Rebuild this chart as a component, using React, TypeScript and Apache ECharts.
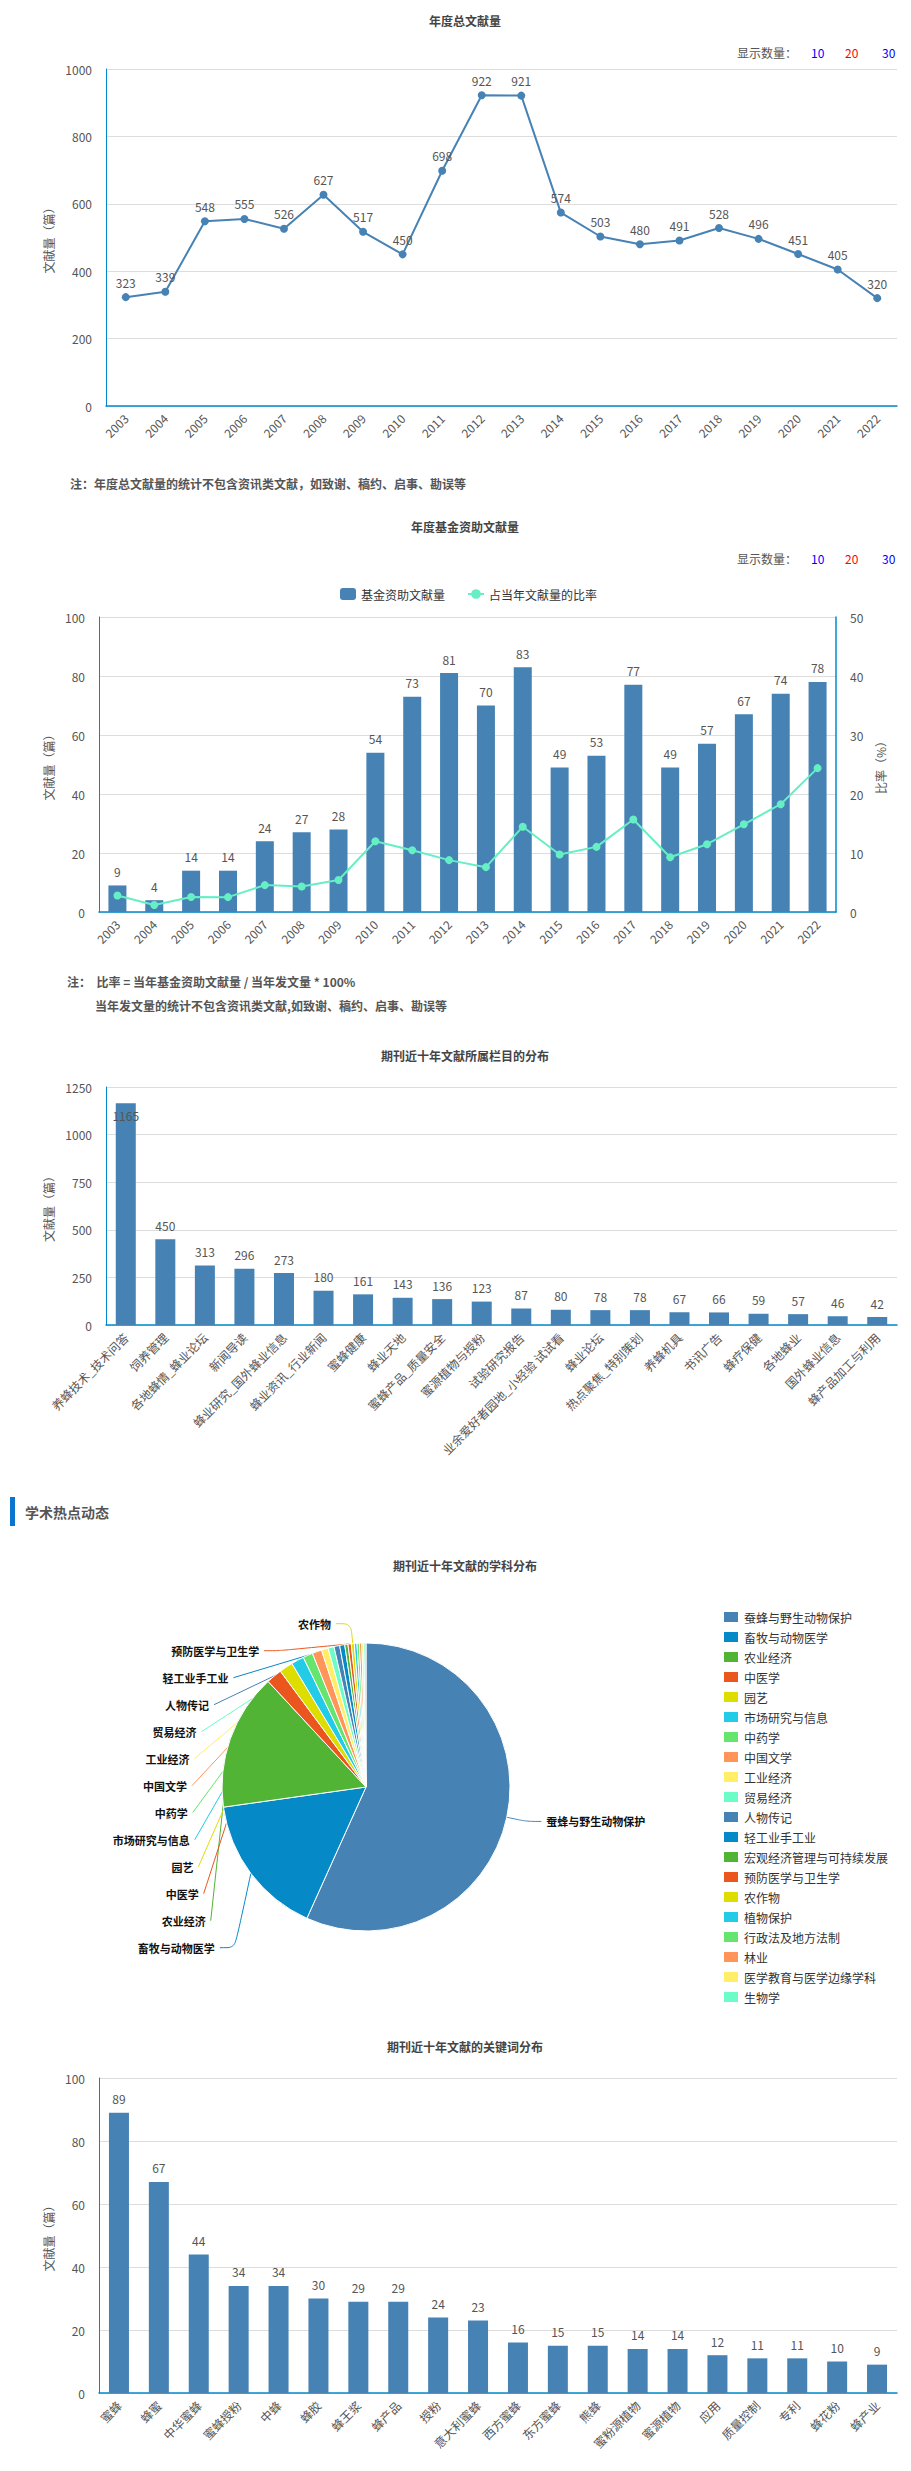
import React, { useEffect, useRef } from 'react';
import * as echarts from 'echarts';

const years = ['2003', '2004', '2005', '2006', '2007', '2008', '2009', '2010', '2011', '2012', '2013', '2014', '2015', '2016', '2017', '2018', '2019', '2020', '2021', '2022'];
const totalCounts = [323, 339, 548, 555, 526, 627, 517, 450, 698, 922, 921, 574, 503, 480, 491, 528, 496, 451, 405, 320];
const fundCounts = [9, 4, 14, 14, 24, 27, 28, 54, 73, 81, 70, 83, 49, 53, 77, 49, 57, 67, 74, 78];
const fundRatios = [2.79, 1.18, 2.55, 2.52, 4.56, 4.31, 5.42, 12.0, 10.46, 8.79, 7.6, 14.46, 9.74, 11.04, 15.68, 9.28, 11.49, 14.86, 18.27, 24.38];

const columns = ['养蜂技术_技术问答', '饲养管理', '各地蜂情_蜂业论坛', '新闻导读', '蜂业研究_国外蜂业信息', '蜂业资讯_行业新闻', '蜜蜂健康', '蜂业天地', '蜜蜂产品_质量安全', '蜜源植物与授粉', '试验研究报告', '业余爱好者园地_小经验 试试看', '蜂业论坛', '热点聚焦_特别策划', '养蜂机具', '书讯广告', '蜂疗保健', '各地蜂业', '国外蜂业信息', '蜂产品加工与利用'];
const columnCounts = [1165, 450, 313, 296, 273, 180, 161, 143, 136, 123, 87, 80, 78, 78, 67, 66, 59, 57, 46, 42];

const subjects = ['蚕蜂与野生动物保护', '畜牧与动物医学', '农业经济', '中医学', '园艺', '市场研究与信息', '中药学', '中国文学', '工业经济', '贸易经济', '人物传记', '轻工业手工业', '宏观经济管理与可持续发展', '预防医学与卫生学', '农作物', '植物保护', '行政法及地方法制', '林业', '医学教育与医学边缘学科', '生物学'];
const subjectCounts = [1702, 481, 460, 53, 46, 43, 33, 32, 23, 20, 19, 17, 11, 11, 10, 9, 8, 8, 7, 7];
const hiddenSubjectLabels = ['宏观经济管理与可持续发展', '植物保护', '行政法及地方法制', '林业', '医学教育与医学边缘学科', '生物学'];

const keywords = ['蜜蜂', '蜂蜜', '中华蜜蜂', '蜜蜂授粉', '中蜂', '蜂胶', '蜂王浆', '蜂产品', '授粉', '意大利蜜蜂', '西方蜜蜂', '东方蜜蜂', '熊蜂', '蜜粉源植物', '蜜源植物', '应用', '质量控制', '专利', '蜂花粉', '蜂产业'];
const keywordCounts = [89, 67, 44, 34, 34, 30, 29, 29, 24, 23, 16, 15, 15, 14, 14, 12, 11, 11, 10, 9];

const palette = ['#4682B4', '#0589C7', '#52B435', '#EB561E', '#DDDD00', '#22CCE6', '#66E56E', '#FF9558', '#FFEE66', '#6CFCC8'];

const FONT = '"Noto Sans CJK SC", "Noto Sans", sans-serif';
const AXIS_BLUE = '#008acd';
const BAR = '#4682B4';
const MINT = '#66EEC4';
const LABEL = '#555';

function catAxis(gridIndex: number, data: string[]) {
  return {
    type: 'category',
    gridIndex,
    data,
    axisLine: { lineStyle: { color: AXIS_BLUE, width: 1.5 } },
    axisTick: { length: 8, lineStyle: { color: '#b9cbdc' } },
    axisLabel: { rotate: 45, interval: 0, color: LABEL, fontSize: 12, margin: 10, fontFamily: FONT },
    splitLine: { show: false },
  };
}

function valAxis(gridIndex: number, max: number, interval: number, nameGap: number, extra: any = {}) {
  return {
    type: 'value',
    gridIndex,
    min: 0,
    max,
    interval,
    name: '文献量（篇）',
    nameLocation: 'middle',
    nameGap,
    nameTextStyle: { color: LABEL, fontSize: 12, fontFamily: FONT },
    axisLine: { show: true, lineStyle: { color: AXIS_BLUE } },
    axisTick: { show: false },
    axisLabel: { color: LABEL, fontSize: 12, margin: 14, fontFamily: FONT, formatter: (v: number) => String(v) },
    splitLine: { lineStyle: { color: '#ddd' } },
    ...extra,
  };
}

function titleAt(text: string, y: number) {
  return {
    text,
    left: 465,
    top: y - 7,
    padding: 0,
    textAlign: 'center',
    textStyle: { fontSize: 12, fontWeight: 'bold', color: '#444', fontFamily: FONT },
  };
}

function showCount(y: number) {
  const base = { fontSize: 12, fontFamily: FONT, verticalAlign: 'middle' };
  return [
    { type: 'text', x: 737, y, style: { ...base, text: '显示数量：', fill: '#555' } },
    { type: 'text', x: 811, y, style: { ...base, text: '10', fill: '#0000ff' } },
    { type: 'text', x: 845, y, style: { ...base, text: '20', fill: '#ff0000' } },
    { type: 'text', x: 882, y, style: { ...base, text: '30', fill: '#0000ff' } },
  ];
}

function note(text: string, x: number, y: number) {
  return {
    type: 'text',
    x,
    y,
    style: { text, fill: '#555', fontSize: 12, fontWeight: 'bold', fontFamily: FONT, verticalAlign: 'middle' },
  };
}

const barLabel = { show: true, position: 'top', distance: 8, color: LABEL, fontSize: 12, fontFamily: FONT };

function buildOption() {
  return {
    animation: false,
    textStyle: { fontFamily: FONT },
    title: [
      titleAt('年度总文献量', 21),
      titleAt('年度基金资助文献量', 527),
      titleAt('期刊近十年文献所属栏目的分布', 1056),
      titleAt('期刊近十年文献的学科分布', 1566),
      titleAt('期刊近十年文献的关键词分布', 2047),
    ],
    legend: [
      {
        data: ['基金资助文献量', '占当年文献量的比率'],
        left: 335,
        top: 583,
        itemWidth: 16,
        itemHeight: 12,
        itemGap: 22,
        textStyle: { color: '#333', fontSize: 12, fontFamily: FONT },
      },
      {
        data: subjects,
        orient: 'vertical',
        left: 717,
        top: 1605,
        itemWidth: 16,
        itemHeight: 12,
        itemGap: 6,
        icon: 'rect',
        textStyle: { color: '#333', fontSize: 12, fontFamily: FONT },
      },
    ],
    grid: [
      { left: 106, top: 69, width: 791, height: 337, outerBoundsMode: 'none' },
      { left: 99, top: 617, width: 737, height: 295, outerBoundsMode: 'none' },
      { left: 106, top: 1087, width: 791, height: 238, outerBoundsMode: 'none' },
      { left: 99, top: 2078, width: 798, height: 315, outerBoundsMode: 'none' },
    ],
    xAxis: [catAxis(0, years), catAxis(1, years), catAxis(2, columns), catAxis(3, keywords)],
    yAxis: [
      valAxis(0, 1000, 200, 50),
      valAxis(1, 100, 20, 43),
      valAxis(1, 50, 10, 38, { position: 'right', name: '比率（%）', splitLine: { show: false }, axisLine: { show: true, lineStyle: { color: AXIS_BLUE, width: 1.5 } } }),
      valAxis(2, 1250, 250, 50),
      valAxis(3, 100, 20, 43),
    ],
    series: [
      {
        name: '年度总文献量',
        type: 'line',
        xAxisIndex: 0,
        yAxisIndex: 0,
        data: totalCounts,
        symbol: 'circle',
        symbolSize: 8,
        lineStyle: { color: BAR, width: 2 },
        itemStyle: { color: BAR },
        label: { show: true, position: 'top', color: LABEL, fontSize: 12, fontFamily: FONT },
      },
      {
        name: '基金资助文献量',
        type: 'bar',
        xAxisIndex: 1,
        yAxisIndex: 1,
        data: fundCounts,
        barWidth: 18,
        itemStyle: { color: BAR },
        label: barLabel,
      },
      {
        name: '占当年文献量的比率',
        type: 'line',
        xAxisIndex: 1,
        yAxisIndex: 2,
        data: fundRatios,
        symbol: 'circle',
        symbolSize: 8,
        lineStyle: { color: MINT, width: 2 },
        itemStyle: { color: MINT },
      },
      {
        name: '栏目',
        type: 'bar',
        xAxisIndex: 2,
        yAxisIndex: 3,
        data: columnCounts.map((v, i) =>
          i === 0 ? { value: v, label: { position: 'insideTop', distance: 6 } } : v
        ),
        barWidth: 20,
        itemStyle: { color: BAR },
        label: barLabel,
      },
      {
        name: '学科分布',
        type: 'pie',
        center: [366, 1787],
        radius: 144,
        color: palette,
        startAngle: 90,
        clockwise: true,
        avoidLabelOverlap: true,
        itemStyle: { borderColor: '#fff', borderWidth: 1 },
        label: { show: true, formatter: '{b}', color: '#111', fontSize: 11, fontWeight: 'bold', fontFamily: FONT, lineHeight: 25 },
        labelLine: { show: true, length: 20, length2: 15, smooth: 0.3 },
        data: subjects.map((name, i) => {
          const hidden = hiddenSubjectLabels.indexOf(name) >= 0;
          return hidden
            ? { name, value: subjectCounts[i], label: { show: false }, labelLine: { show: false } }
            : { name, value: subjectCounts[i] };
        }),
      },
      {
        name: '关键词',
        type: 'bar',
        xAxisIndex: 3,
        yAxisIndex: 4,
        data: keywordCounts,
        barWidth: 20,
        itemStyle: { color: BAR },
        label: barLabel,
      },
    ],
    graphic: [
      ...showCount(52),
      ...showCount(558),
      note('注：年度总文献量的统计不包含资讯类文献，如致谢、稿约、启事、勘误等', 70, 483),
      note('注：  比率 = 当年基金资助文献量 / 当年发文量 * 100%', 67, 981),
      note('当年发文量的统计不包含资讯类文献,如致谢、稿约、启事、勘误等', 95, 1005),
      { type: 'rect', shape: { x: 10, y: 1497, width: 5, height: 29 }, style: { fill: '#0B74D1' } },
      {
        type: 'text',
        x: 25,
        y: 1512,
        style: { text: '学术热点动态', fill: '#555', fontSize: 14, fontWeight: 'bold', fontFamily: FONT, verticalAlign: 'middle' },
      },
    ],
  };
}

export default function App() {
  const ref = useRef<HTMLDivElement>(null);
  useEffect(() => {
    if (!ref.current) return;
    const chart = echarts.init(ref.current, null, { renderer: 'svg' });
    chart.setOption(buildOption() as any);
    return () => {
      chart.dispose();
    };
  }, []);
  return (
    <div
      ref={ref}
      style={{ position: 'absolute', left: 0, top: 0, width: 911, height: 2471, background: '#fff' }}
    />
  );
}
